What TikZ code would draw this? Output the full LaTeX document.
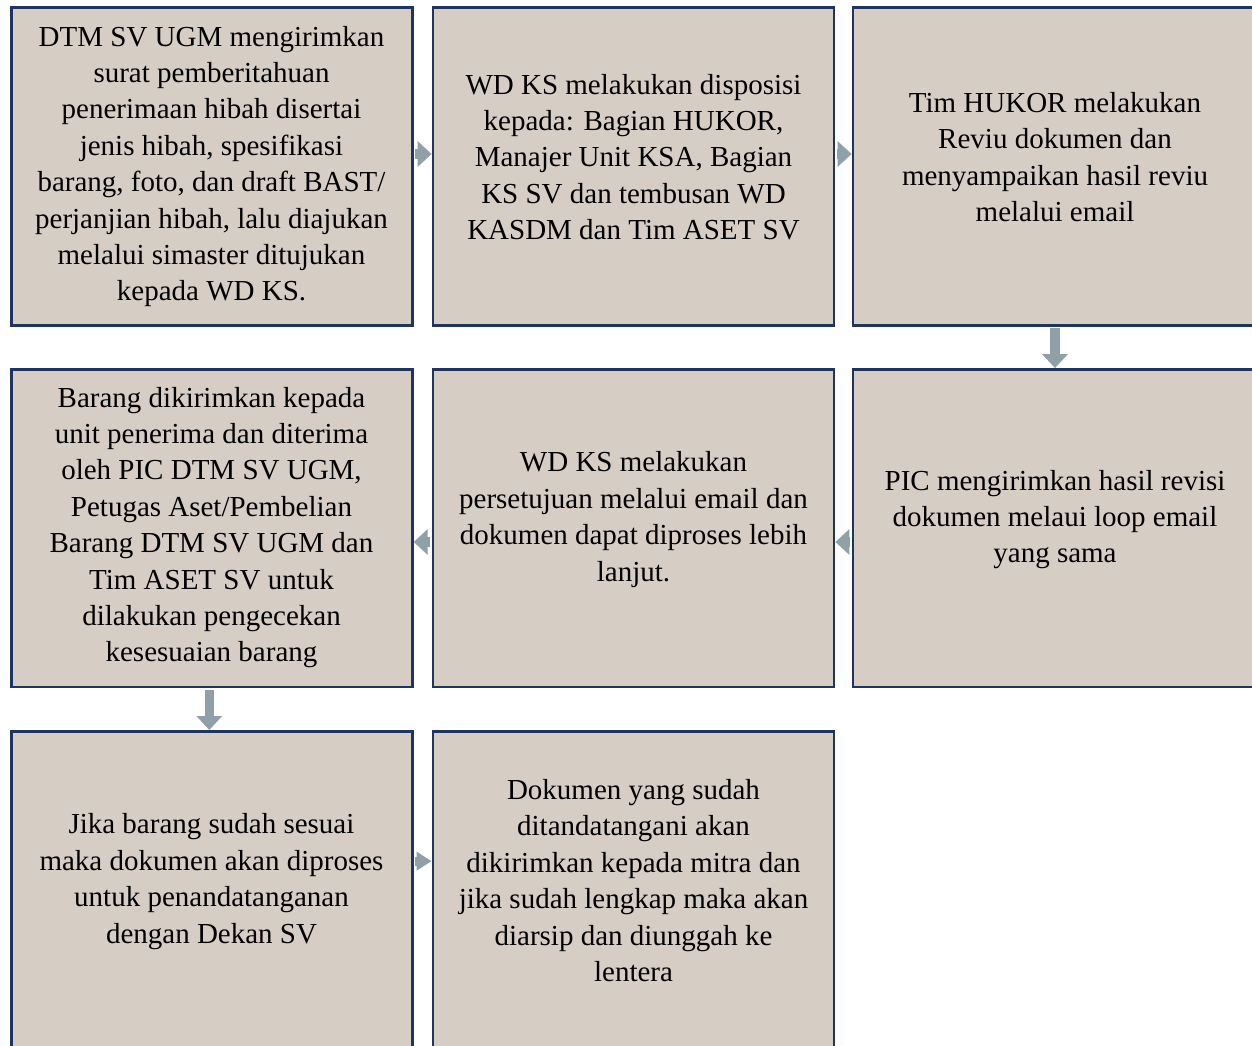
\documentclass[tikz,border=0pt]{standalone}
\usepackage{fontspec}
\setmainfont{Liberation Serif}
\usetikzlibrary{arrows.meta}
\definecolor{boxfill}{RGB}{214,205,197}
\definecolor{boxline}{RGB}{31,52,95}
\definecolor{arrgray}{RGB}{143,160,168}
\begin{document}
\begin{tikzpicture}[x=1pt,y=-1pt,
  box/.style={draw=boxline,line width=2.8pt,fill=boxfill,rectangle,minimum width=401pt,minimum height=317.5pt,inner sep=0pt},
  txt/.style={align=center,font=\fontsize{29}{36.4}\selectfont,inner sep=0pt},
  arr/.style={draw=arrgray,line width=9.5pt,-{Triangle[width=25pt,length=14pt]},shorten <=1.4pt},
  arrs/.style={draw=arrgray,line width=9pt,-{Triangle[width=18pt,length=15pt]},shorten <=1.4pt}]
\useasboundingbox (0,0) rectangle (1252,1046);
\begin{scope}
\clip (0,0) rectangle (1252,1046);
\node[box] (b1) at (211.8,166.5) {};
\node[box] (b2) at (633.5,166.5) {};
\node[box] (b3) at (1053.5,166.5) {};
\node[box] (b4) at (1053.5,528.25) {};
\node[box] (b5) at (633.5,528.25) {};
\node[box] (b6) at (211.8,528.25) {};
\node[box] (b7) at (211.8,890.15) {};
\node[box] (b8) at (633.5,890.15) {};

\node[txt] (t1) at (211.5,166.5) {DTM SV UGM mengirimkan\\surat pemberitahuan\\penerimaan hibah disertai\\jenis hibah, spesifikasi\\barang, foto, dan draft BAST/\\perjanjian hibah, lalu diajukan\\melalui simaster ditujukan\\kepada WD KS.};
\node[txt] (t2) at (633.5,157) {WD KS melakukan disposisi\\kepada: Bagian HUKOR,\\Manajer Unit KSA, Bagian\\KS SV dan tembusan WD\\KASDM dan Tim ASET SV};
\node[txt] (t3) at (1055,157) {Tim HUKOR melakukan\\Reviu dokumen dan\\menyampaikan hasil reviu\\melalui email};
\node[txt] (t4) at (1055,519.5) {PIC mengirimkan hasil revisi\\dokumen melaui loop email\\yang sama};
\node[txt] (t5) at (633.5,519.5) {WD KS melakukan\\persetujuan melalui email dan\\dokumen dapat diproses lebih\\lanjut.};
\node[txt] (t6) at (211.5,527.5) {Barang dikirimkan kepada\\unit penerima dan diterima\\oleh PIC DTM SV UGM,\\Petugas Aset/Pembelian\\Barang DTM SV UGM dan\\Tim ASET SV untuk\\dilakukan pengecekan\\kesesuaian barang};
\node[txt] (t7) at (211.5,881.5) {Jika barang sudah sesuai\\maka dokumen akan diproses\\untuk penandatanganan\\dengan Dekan SV};
\node[txt] (t8) at (633.5,880.5) {Dokumen yang sudah\\ditandatangani akan\\dikirimkan kepada mitra dan\\jika sudah lengkap maka akan\\diarsip dan diunggah ke\\lentera};

\draw[arr] ([yshift=12.5pt]b1.east) -- ([yshift=12.5pt]b2.west);
\draw[arr] ([yshift=12.5pt]b2.east) -- ([yshift=12.5pt]b3.west);
\draw[arr] ([xshift=1.5pt]b3.south) -- ([xshift=1.5pt]b4.north);
\draw[arr] ([yshift=-13.75pt]b4.west) -- ([yshift=-13.75pt]b5.east);
\draw[arr] ([yshift=-13.75pt]b5.west) -- ([yshift=-13.75pt]b6.east);
\draw[arr] ([xshift=-2.5pt]b6.south) -- ([xshift=-2.5pt]b7.north);
\draw[arrs] ([yshift=29pt]b7.east) -- ([yshift=29pt]b8.west);
\end{scope}
\end{tikzpicture}
\end{document}
